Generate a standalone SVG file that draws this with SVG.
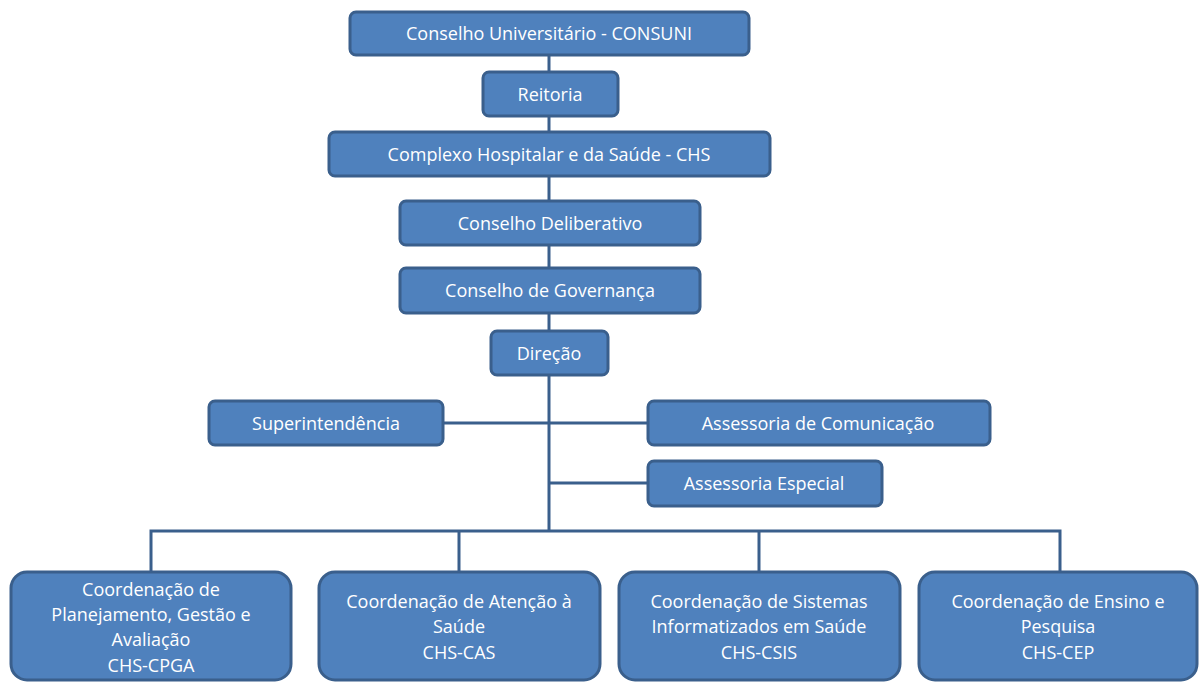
<svg xmlns="http://www.w3.org/2000/svg" width="1199" height="682" viewBox="0 0 1199 682">
<style>
.box{fill:#4F81BD;stroke:#3A5F8C;stroke-width:3}
.t{font-family:"Open Sans","Liberation Sans",Arial,sans-serif;font-size:18px;fill:#ffffff;text-anchor:middle}
.c{fill:none;stroke:#3A5F8C;stroke-width:3}
</style>
<rect width="1199" height="682" fill="#ffffff"/>
<g id="connectors">
<path class="c" d="M549 55V72M549 116V132M549 176V201M549 245V267M549 313V331M549 375V530"/>
<path class="c" d="M443 423H648M549 483H648"/>
<path class="c" d="M151 571V531H1060V571M459 531V571M759 531V571"/>
</g>
<g id="consuni"><rect class="box" x="350" y="12" width="399" height="43" rx="6"/><text class="t" x="549" y="40">Conselho Universitário - CONSUNI</text></g>
<g id="reitoria"><rect class="box" x="483" y="72" width="135" height="44" rx="6"/><text class="t" x="550" y="101">Reitoria</text></g>
<g id="chs"><rect class="box" x="329" y="132" width="441" height="44" rx="6"/><text class="t" x="549" y="161">Complexo Hospitalar e da Saúde - CHS</text></g>
<g id="deliberativo"><rect class="box" x="400" y="201" width="300" height="44" rx="6"/><text class="t" x="550" y="230">Conselho Deliberativo</text></g>
<g id="governanca"><rect class="box" x="400" y="268" width="300" height="45" rx="6"/><text class="t" x="550" y="297">Conselho de Governança</text></g>
<g id="direcao"><rect class="box" x="491" y="331" width="117" height="44" rx="6"/><text class="t" x="549" y="360">Direção</text></g>
<g id="superintendencia"><rect class="box" x="209" y="401" width="234" height="44" rx="6"/><text class="t" x="326" y="430">Superintendência</text></g>
<g id="comunicacao"><rect class="box" x="648" y="401" width="342" height="44" rx="6"/><text class="t" x="818" y="430">Assessoria de Comunicação</text></g>
<g id="especial"><rect class="box" x="648" y="461" width="234" height="45" rx="6"/><text class="t" x="764" y="490">Assessoria Especial</text></g>
<g id="cpga"><rect class="box" x="11" y="572" width="280" height="108" rx="16"/><text class="t" x="151" y="596">Coordenação de</text><text class="t" x="151" y="621">Planejamento, Gestão e</text><text class="t" x="151" y="646">Avaliação</text><text class="t" x="151" y="672">CHS-CPGA</text></g>
<g id="cas"><rect class="box" x="319" y="572" width="281" height="108" rx="16"/><text class="t" x="459" y="608">Coordenação de Atenção à</text><text class="t" x="459" y="633">Saúde</text><text class="t" x="459" y="659">CHS-CAS</text></g>
<g id="csis"><rect class="box" x="619" y="572" width="281" height="108" rx="16"/><text class="t" x="759" y="608">Coordenação de Sistemas</text><text class="t" x="759" y="633">Informatizados em Saúde</text><text class="t" x="759" y="659">CHS-CSIS</text></g>
<g id="cep"><rect class="box" x="919" y="572" width="278" height="108" rx="16"/><text class="t" x="1058" y="608">Coordenação de Ensino e</text><text class="t" x="1058" y="633">Pesquisa</text><text class="t" x="1058" y="659">CHS-CEP</text></g>
</svg>
